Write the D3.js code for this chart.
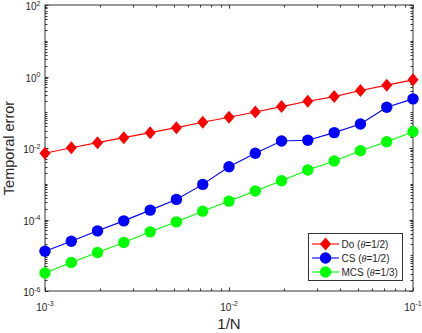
<!DOCTYPE html>
<html lang="en">
<head>
<meta charset="UTF-8">
<title>Temporal error</title>
<script src="https://d3js.org/d3.v7.min.js"></script>
<style>
  * { margin: 0; padding: 0; }
  body { background: #fff; font-family: "Liberation Sans", Arial, sans-serif; }
  svg text { fill: #262626; }
</style>
</head>
<body>
<svg id="chart" width="422" height="333"></svg>
<script>
// 1/N values (15 step sizes)
const invN = [0.001, 0.00139, 0.00193, 0.00268, 0.00373, 0.00518, 0.0072, 0.01,
              0.0139, 0.0193, 0.0268, 0.0373, 0.0518, 0.072, 0.1];

// temporal errors
const errDo  = [0.0071, 0.0102, 0.0141, 0.0195, 0.0269, 0.0371, 0.0525, 0.0726,
                0.102, 0.144, 0.204, 0.274, 0.404, 0.573, 0.805];
const errCS  = [1.30e-5, 2.47e-5, 4.81e-5, 9.16e-5, 1.83e-4, 3.65e-4, 9.6e-4, 2.99e-3,
                7.1e-3, 1.57e-2, 1.64e-2, 2.69e-2, 4.71e-2, 0.138, 0.237];
const errMCS = [3.2e-6, 6.25e-6, 1.19e-5, 2.27e-5, 4.51e-5, 8.59e-5, 1.71e-4, 3.27e-4,
                6.24e-4, 1.21e-3, 2.42e-3, 4.32e-3, 8.39e-3, 1.50e-2, 2.86e-2];

const xMajor = [1e-3, 1e-2, 1e-1];
const xMajorExp = ['-3', '-2', '-1'];
const yMajor = [1e2, 1e0, 1e-2, 1e-4, 1e-6];
const yMajorExp = ['2', '0', '-2', '-4', '-6'];

const series = [
  { name: 'Do', theta: '1/2', values: errDo, color: '#ff0000', marker: 'diamond' },
  { name: 'CS', theta: '1/2', values: errCS, color: '#0000ff', marker: 'circle' },
  { name: 'MCS', theta: '1/3', values: errMCS, color: '#00ff00', marker: 'circle' }
];

const L = 45, R = 413, T = 5, B = 291;
const svg = d3.select('#chart');

const x = d3.scaleLog().domain([1e-3, 1e-1]).range([L, R]);
const y = d3.scaleLog().domain([1e-6, 1e2]).range([B, T]);

// minor ticks: 2..9 in every decade
function minors(lo, hi) {
  const out = [];
  for (let e = lo; e < hi; e++)
    for (let k = 2; k <= 9; k++) out.push(k * Math.pow(10, e));
  return out;
}
const xMinor = minors(-3, -1);
const yMinor = minors(-6, 2).concat([1e1, 1e-1, 1e-3, 1e-5]);

const axisCol = '#333';
const tk = svg.append('g').attr('stroke', axisCol).attr('stroke-width', 1);

// ticks, inward, on all four sides
function xTicks(vals, len) {
  vals.forEach(v => {
    const px = Math.round(x(v)) + 0.5;
    tk.append('line').attr('x1', px).attr('x2', px).attr('y1', B).attr('y2', B - len);
    tk.append('line').attr('x1', px).attr('x2', px).attr('y1', T).attr('y2', T + len);
  });
}
function yTicks(vals, len) {
  vals.forEach(v => {
    const py = Math.round(y(v)) + 0.5;
    tk.append('line').attr('y1', py).attr('y2', py).attr('x1', L).attr('x2', L + len);
    tk.append('line').attr('y1', py).attr('y2', py).attr('x1', R).attr('x2', R - len);
  });
}
xTicks(xMinor, 2.5);
xTicks(xMajor, 3.5);
yTicks(yMinor, 2.5);
yTicks(yMajor, 3.5);

// box
svg.append('rect')
  .attr('x', L).attr('y', T).attr('width', R - L).attr('height', B - T)
  .attr('fill', 'none').attr('stroke', axisCol).attr('stroke-width', 1);

// tick labels
xMajor.forEach((v, i) => {
  const t = svg.append('text').attr('x', x(v)).attr('y', 310.5)
    .attr('text-anchor', 'middle').attr('font-size', 10);
  t.append('tspan').text('10');
  t.append('tspan').attr('font-size', 7).attr('dy', -4.5).text(xMajorExp[i]);
});
yMajor.forEach((v, i) => {
  const t = svg.append('text').attr('x', 40.5).attr('y', y(v) + 5)
    .attr('text-anchor', 'end').attr('font-size', 10);
  t.append('tspan').text('10');
  t.append('tspan').attr('font-size', 7).attr('dy', -4.5).text(yMajorExp[i]);
});

// axis titles
svg.append('text').attr('x', (L + R) / 2).attr('y', 329)
  .attr('text-anchor', 'middle').attr('font-size', 15).text('1/N');
svg.append('text').attr('transform', 'translate(14,148) rotate(-90)')
  .attr('text-anchor', 'middle').attr('font-size', 14.5).text('Temporal error');

// markers
function drawMarker(g, type, cx, cy, color) {
  if (type === 'diamond') {
    g.append('path')
      .attr('d', `M${cx},${cy - 6.5}L${cx + 5.5},${cy}L${cx},${cy + 6.5}L${cx - 5.5},${cy}Z`)
      .attr('fill', color);
  } else {
    g.append('circle').attr('cx', cx).attr('cy', cy).attr('r', 5.7).attr('fill', color);
  }
}

const line = d3.line().x(d => x(d[0])).y(d => y(d[1]));
const plot = svg.append('g');
series.forEach(s => {
  const pts = invN.map((v, i) => [v, s.values[i]]);
  plot.append('path').datum(pts).attr('d', line)
    .attr('fill', 'none').attr('stroke', s.color).attr('stroke-width', 1.1);
  pts.forEach(p => drawMarker(plot, s.marker, x(p[0]), y(p[1]), s.color));
});

// legend
const lg = svg.append('g');
lg.append('rect').attr('x', 308.5).attr('y', 233.5).attr('width', 94).attr('height', 47)
  .attr('fill', '#fff').attr('stroke', axisCol).attr('stroke-width', 1);
series.forEach((s, i) => {
  const ly = 244 + i * 14;
  lg.append('line').attr('x1', 312).attr('x2', 339).attr('y1', ly).attr('y2', ly)
    .attr('stroke', s.color).attr('stroke-width', 1.1);
  drawMarker(lg, s.marker, 325.5, ly, s.color);
  const t = lg.append('text').attr('x', 341.5).attr('y', ly + 3.5).attr('font-size', 10);
  t.append('tspan').text(s.name + ' (');
  t.append('tspan').attr('font-style', 'italic').attr('font-family', '"Liberation Serif", serif').text('θ');
  t.append('tspan').text('=' + s.theta + ')');
});
</script>
</body>
</html>
